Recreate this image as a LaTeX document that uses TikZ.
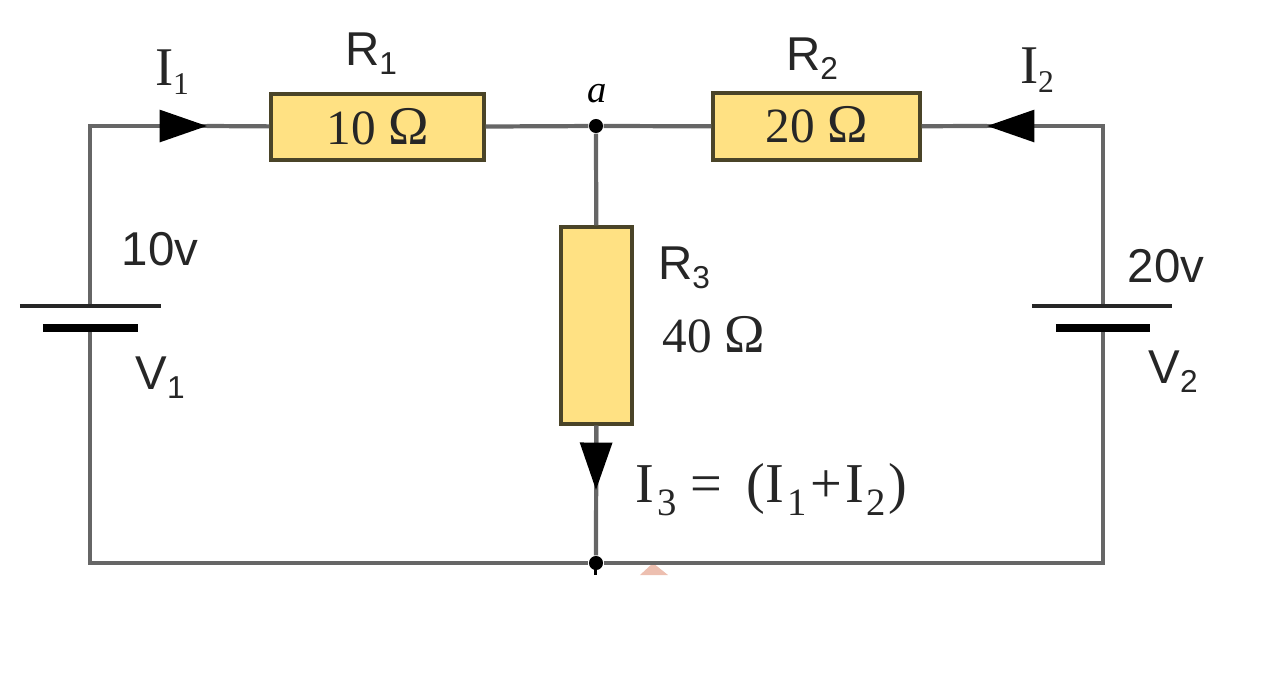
\documentclass[tikz,border=0pt]{standalone}
\usepackage{fontspec}
\usepackage{xcolor}
\setmainfont{Liberation Serif}
\setsansfont{Liberation Sans}
\usetikzlibrary{arrows.meta}
\definecolor{resfill}{HTML}{FFE183}
\definecolor{resline}{HTML}{4A4428}
\definecolor{wirecol}{HTML}{666666}
\definecolor{markcol}{HTML}{EDBFB0}
\newcommand{\subnum}[1]{\raisebox{-0.35ex}{\fontsize{9}{11}\selectfont #1}}
\newcommand{\subwide}[1]{\hspace{0.8pt}\raisebox{-0.5ex}{\fontsize{11}{12}\selectfont #1}}
\newcommand{\ohm}{\fontsize{15.5}{16}\selectfont Ω}
\tikzset{
  res/.style={draw=resline,fill=resfill,line width=0.9pt,inner sep=0pt,text=black!85,font=\fontsize{14}{16}\selectfont},
  wire/.style={draw=wirecol,line width=1.2pt},
  plate/.style={draw=black!85,line width=1.1pt},
  thickplate/.style={draw=black,line width=2pt},
  tip/.style={wire,-{Triangle[length=13.5pt,width=9pt,color=black]}},
  dot/.style={circle,fill=black,inner sep=0pt,minimum size=4pt},
  serif/.style={inner sep=0pt,text=black!85,font=\fontsize{15.5}{18}\selectfont},
  sans/.style={inner sep=0pt,text=black!85,font=\sffamily\fontsize{13.5}{17}\selectfont},
}
\begin{document}
\begin{tikzpicture}[x=0.01cm,y=-0.01cm]
\useasboundingbox (0,0) rectangle (1262,687);
\fill[markcol] (640,575) -- (653,563) -- (668,575) -- cycle;
\fill[black] (594,569) rectangle (597,575);
\coordinate (tl) at (90,126);
\coordinate (tr) at (1103,126);
\coordinate (bl) at (90,563);
\coordinate (br) at (1103,563);
\coordinate (v1top) at (90,306);
\coordinate (v1bot) at (90,328);
\coordinate (v2top) at (1103,306);
\coordinate (v2bot) at (1103,328);
\coordinate (v1a) at (20,306);
\coordinate (v1b) at (161,306);
\coordinate (v1c) at (43,328);
\coordinate (v1d) at (138,328);
\coordinate (v2a) at (1032,306);
\coordinate (v2b) at (1172,306);
\coordinate (v2c) at (1056,328);
\coordinate (v2d) at (1150,328);
\coordinate (i1tip) at (207,126);
\coordinate (i2tip) at (987,126);
\coordinate (i3tip) at (596,490);
\node[dot] (a) at (596,126) {};
\node[dot] (b) at (596,563) {};
\draw[wire] (v1top) -- (tl) -- (i1tip);
\draw[wire] (v1bot) -- (bl) -- (b) -- (br) -- (v2bot);
\draw[wire] (v2top) -- (tr) -- (i2tip);
\node[res,minimum width=2.13cm,minimum height=0.66cm] (r1) at (377.5,127) {\raisebox{0.5pt}{10 \ohm}};
\node[res,minimum width=2.07cm,minimum height=0.67cm] (r2) at (816.5,126.5) {\raisebox{1pt}{20 \ohm}};
\node[res,minimum width=0.71cm,minimum height=1.97cm] (r3) at (596.5,325.5) {};
\draw[wire] (r1) -- (a) -- (r2);
\draw[wire] (a) -- (r3);
\draw[wire] (r3) -- (b);
\draw[wire] (i2tip) -- (r2);
\draw[wire] (i1tip) -- (r1);
\draw[tip] (tl) -- (i1tip);
\draw[tip] (tr) -- (i2tip);
\draw[tip] (r3) -- (i3tip);
\draw[plate] (v1a) -- (v1b);
\draw[thickplate] (v1c) -- (v1d);
\draw[plate] (v2a) -- (v2b);
\draw[thickplate] (v2c) -- (v2d);
\node[serif] (i1) at (172,72) {I\subnum{1}};
\node[serif] (i2) at (1037,70) {I\subnum{2}};
\node[sans] (r1lab) at (371,54) {R\subnum{1}};
\node[sans] (r2lab) at (812,59) {R\subnum{2}};
\node[sans] (r3lab) at (684,268) {R\subnum{3}};
\node[res,draw=none,fill=none] (r3val) at (714,335) {40 \ohm};
\node[inner sep=0pt,font=\itshape\fontsize{11}{13}\selectfont] (alab) at (597,94) {a};
\node[serif,anchor=west,font=\fontsize{16}{18}\selectfont] (i3) at (635,490) {I\subwide{3}\hspace{4pt}=\hspace{7pt}(I\subwide{1}\hspace{1pt}+\hspace{1pt}I\subwide{2}\hspace{0.5pt})};
\node[sans] (v1val) at (160,249) {10v};
\node[sans] (v2val) at (1166,266) {20v};
\node[sans] (v1lab) at (160,378) {V\subnum{1}};
\node[sans] (v2lab) at (1173,372) {V\subnum{2}};
\end{tikzpicture}
\end{document}
